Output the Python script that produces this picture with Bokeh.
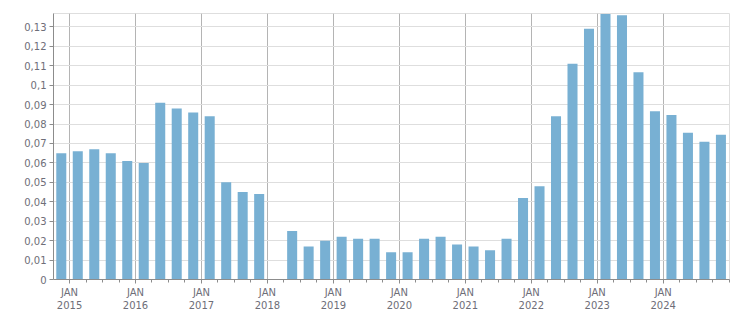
from bokeh.plotting import figure
from bokeh.models import FixedTicker, Range1d, ColumnDataSource
from bokeh.embed import file_html
from bokeh.resources import INLINE

# Quarterly data (bars centred on the middle of each quarter)
years = [2014] + [y for y in range(2015, 2025) for _ in range(4)]
quarters = [4] + [q for _ in range(2015, 2025) for q in (1, 2, 3, 4)]
values = [
    0.065,
    0.066, 0.067, 0.065, 0.061,
    0.060, 0.091, 0.088, 0.086,
    0.084, 0.050, 0.045, 0.044,
    float("nan"), 0.025, 0.017, 0.020,
    0.022, 0.021, 0.021, 0.014,
    0.014, 0.021, 0.022, 0.018,
    0.017, 0.015, 0.021, 0.042,
    0.048, 0.084, 0.111, 0.129,
    0.1366, 0.136, 0.1066, 0.0866,
    0.0846, 0.0755, 0.0709, 0.0745,
]

x_tick_years = list(range(2015, 2025))
x_tick_labels = ["JAN\n%d" % y for y in x_tick_years]
y_ticks = [0.0, 0.01, 0.02, 0.03, 0.04, 0.05, 0.06, 0.07, 0.08, 0.09, 0.1, 0.11, 0.12, 0.13]
y_labels = ["0", "0,01", "0,02", "0,03", "0,04", "0,05", "0,06", "0,07", "0,08", "0,09",
            "0,1", "0,11", "0,12", "0,13"]

xs = [y + (q - 1) * 0.25 + 0.125 for y, q in zip(years, quarters)]
src = ColumnDataSource(dict(x=xs, top=values))

p = figure(width=751, height=313, output_backend="svg", toolbar_location=None,
           x_range=Range1d(2014.757, 2025.005), y_range=Range1d(0, 0.1369),
           min_border_left=53, min_border_right=22, min_border_top=13, min_border_bottom=33)

p.vbar(x="x", top="top", width=0.152, source=src, fill_color="#78b0d3", line_color=None)

p.outline_line_color = "#dedede"
p.background_fill_color = "white"
p.border_fill_color = "white"

text_color = "#6e6e78"
font = "DejaVu Sans"

# x axis
xa = p.xaxis[0]
xa.ticker = FixedTicker(ticks=x_tick_years,
                        minor_ticks=[2014.75 + 0.25 * i for i in range(42)])
xa.major_label_overrides = dict(zip(x_tick_years, x_tick_labels))
xa.axis_line_color = "#8c8c8c"
xa.major_tick_line_color = "#8c8c8c"
xa.minor_tick_line_color = "#8c8c8c"
xa.major_tick_in = 0
xa.major_tick_out = 4
xa.minor_tick_in = 0
xa.minor_tick_out = 3
xa.major_label_text_color = text_color
xa.major_label_text_font = font
xa.major_label_text_font_size = "10px"
xa.major_label_standoff = 3

# y axis
ya = p.yaxis[0]
ya.ticker = FixedTicker(ticks=y_ticks, minor_ticks=[])
ya.major_label_overrides = dict(zip(y_ticks, y_labels))
ya.axis_line_color = "#8c8c8c"
ya.major_tick_line_color = "#8c8c8c"
ya.major_tick_in = 0
ya.major_tick_out = 4
ya.minor_tick_line_color = None
ya.major_label_text_color = text_color
ya.major_label_text_font = font
ya.major_label_text_font_size = "10px"
ya.major_label_standoff = 3

p.xgrid.grid_line_color = "#b4b4b4"
p.ygrid.grid_line_color = "#dedede"

open("out.html", "w").write(file_html(p, INLINE))
